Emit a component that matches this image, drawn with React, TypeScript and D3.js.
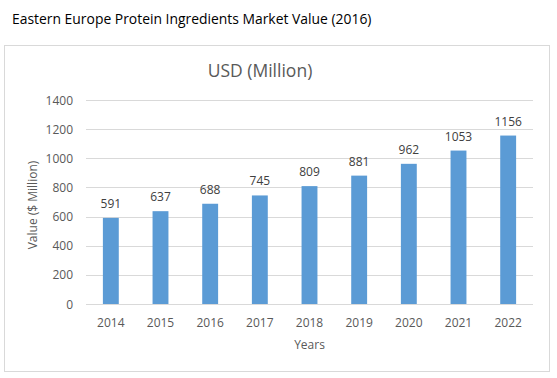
import React from "react";
import * as d3 from "d3";

const years = ["2014", "2015", "2016", "2017", "2018", "2019", "2020", "2021", "2022"];
const values = [591, 637, 688, 745, 809, 881, 962, 1053, 1156];
const yTicks = [0, 200, 400, 600, 800, 1000, 1200, 1400];

const W = 557;
const H = 378;
const FONT = "'Open Sans', 'Liberation Sans', sans-serif";

export default function App() {
  const plot = { left: 86, right: 533, top: 100, bottom: 304 };
  const x = d3.scaleBand<string>().domain(years).range([plot.left, plot.right]).paddingInner(0.68).paddingOuter(0.34);
  const y = d3.scaleLinear().domain([0, 1400]).range([plot.bottom, plot.top]);

  return (
    <svg width={W} height={H} style={{ position: "absolute", left: 0, top: 0, background: "#fff" }}>
      <rect x={0} y={0} width={W} height={H} fill="#fff" />
      <text x={12} y={24} fontFamily={FONT} fontSize={13.9} fill="#000">
        Eastern Europe Protein Ingredients Market Value (2016)
      </text>
      <rect x={4.5} y={45.5} width={545} height={326} fill="#fff" stroke="#d9d9d9" strokeWidth={1} />
      <text x={260} y={77} textAnchor="middle" fontFamily={FONT} fontSize={17.5} fill="#595959">
        USD (Million)
      </text>
      {yTicks.map((t) => (
        <g key={t}>
          <line x1={plot.left} x2={plot.right} y1={Math.round(y(t)) + 0.5} y2={Math.round(y(t)) + 0.5} stroke="#d9d9d9" strokeWidth={1} />
          <text x={73} y={y(t) + 4.5} textAnchor="end" fontFamily={FONT} fontSize={12} fill="#595959">
            {t}
          </text>
        </g>
      ))}
      {years.map((yr, i) => (
        <g key={yr}>
          <rect x={x(yr)} y={y(values[i])} width={x.bandwidth()} height={plot.bottom - y(values[i])} fill="#5B9BD5" />
          <text x={(x(yr) as number) + x.bandwidth() / 2} y={y(values[i]) - 10} textAnchor="middle" fontFamily={FONT} fontSize={12} fill="#404040">
            {values[i]}
          </text>
          <text x={(x(yr) as number) + x.bandwidth() / 2} y={327} textAnchor="middle" fontFamily={FONT} fontSize={12} fill="#595959">
            {yr}
          </text>
        </g>
      ))}
      <text x={(plot.left + plot.right) / 2} y={349} textAnchor="middle" fontFamily={FONT} fontSize={12} fill="#595959">
        Years
      </text>
      <text transform={`translate(37, ${(plot.top + plot.bottom) / 2 + 3}) rotate(-90)`} textAnchor="middle" fontFamily={FONT} fontSize={12} fill="#595959">
        Value ($ Million)
      </text>
    </svg>
  );
}
